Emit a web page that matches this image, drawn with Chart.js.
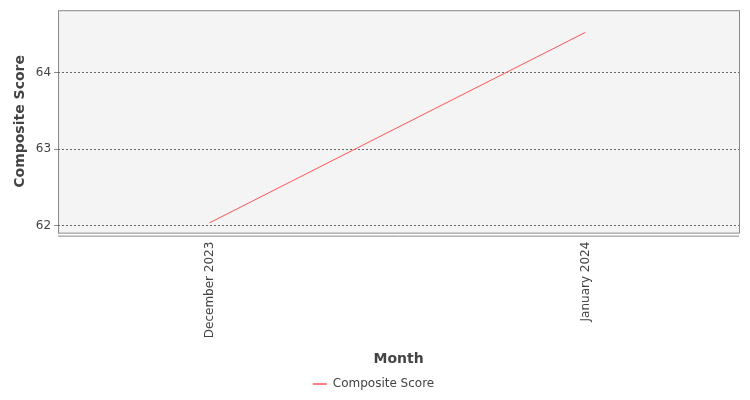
<!DOCTYPE html><html><head><script src="https://cdn.jsdelivr.net/npm/chart.js@4"></script>
<style>html,body{margin:0;background:#fff}#w{width:750px;height:400px}</style></head><body><div id="w"><canvas id="c"></canvas></div>
<script>
const categories=["December 2023","January 2024"];
const scores=[62.04,64.53];
const yTicks=[62,63,64];
const bg={id:'bg',beforeDraw(ch){const a=ch.chartArea,x=ch.ctx;x.save();x.fillStyle='#f4f4f4';x.fillRect(a.left,a.top,a.right-a.left,a.bottom-a.top);x.strokeStyle='#888';x.lineWidth=1;x.strokeRect(a.left+0.5,a.top+0.5,a.right-a.left,a.bottom-a.top);x.beginPath();x.moveTo(a.left,a.bottom+3.5);x.lineTo(a.right,a.bottom+3.5);x.stroke();x.restore();}};
new Chart(document.getElementById('c'),{type:'line',plugins:[bg],
data:{datasets:[{label:'Composite Score',data:scores.map((v,i)=>({x:i,y:v})),borderColor:'#ff5555',backgroundColor:'#ff5555',borderWidth:1,pointRadius:0,tension:0}]},
options:{responsive:true,maintainAspectRatio:false,animation:false,layout:{padding:{top:6,right:11,left:8,bottom:0}},
plugins:{legend:{position:'bottom',labels:{font:{family:'DejaVu Sans',size:12},color:'#444',boxWidth:14,boxHeight:0,padding:4,generateLabels:ch=>[{text:'Composite Score',strokeStyle:'#ff5555',fillStyle:'#ff5555',lineWidth:1,fontColor:'#444'}]}},tooltip:{enabled:false}},
scales:{x:{type:'linear',min:-0.404,max:1.409,afterBuildTicks:s=>{s.ticks=categories.map((c,i)=>({value:i}))},
ticks:{callback:v=>categories[v],maxRotation:90,minRotation:90,font:{family:'DejaVu Sans',size:12},color:'#444',padding:5},grid:{display:false,drawTicks:true,tickLength:4},border:{display:false},
title:{display:true,text:'Month',font:{family:'DejaVu Sans',size:14,weight:'bold'},color:'#444',padding:{top:8,bottom:6}}},
y:{min:61.91,max:64.82,afterBuildTicks:s=>{s.ticks=yTicks.map(v=>({value:v}))},ticks:{font:{family:'DejaVu Sans',size:12},color:'#444'},
grid:{color:'#666',tickLength:4,tickColor:'#888'},border:{display:false,dash:[2,2]},
title:{display:true,text:'Composite Score',font:{family:'DejaVu Sans',size:14,weight:'bold'},color:'#444'}}}}});
</script></body></html>
